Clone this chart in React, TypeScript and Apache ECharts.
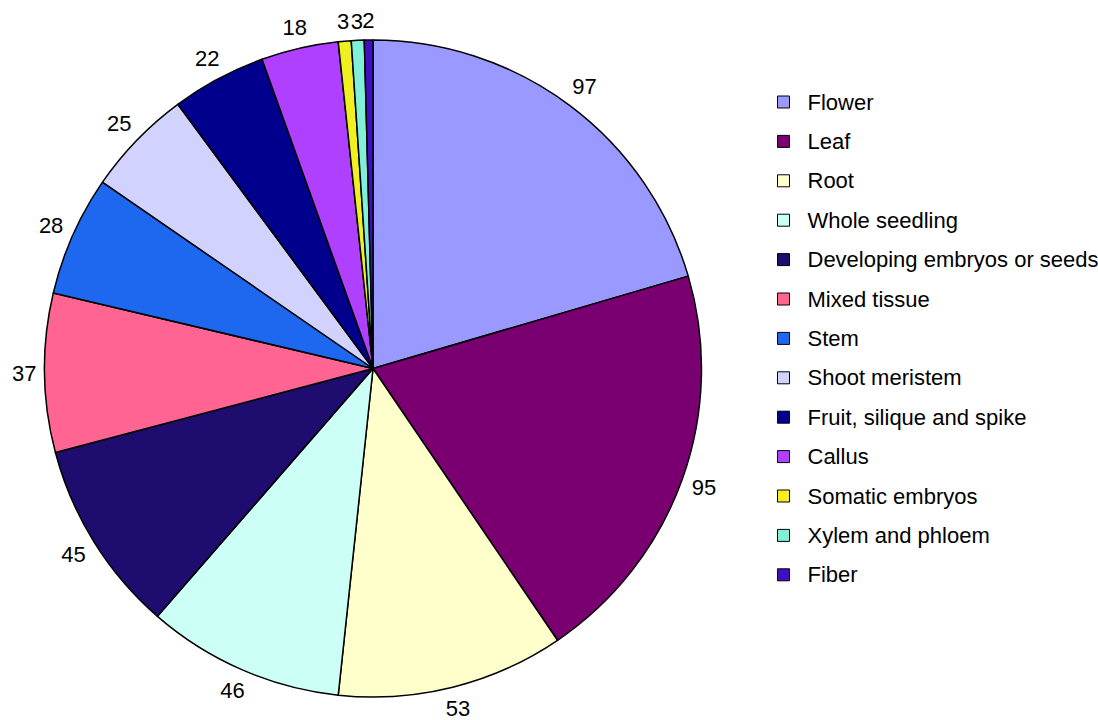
import React, { useEffect, useRef } from "react";
import * as echarts from "echarts";

// Tissue categories and their counts
const categories = [
  "Flower",
  "Leaf",
  "Root",
  "Whole seedling",
  "Developing embryos or seeds",
  "Mixed tissue",
  "Stem",
  "Shoot meristem",
  "Fruit, silique and spike",
  "Callus",
  "Somatic embryos",
  "Xylem and phloem",
  "Fiber",
];
const counts = [97, 95, 53, 46, 45, 37, 28, 25, 22, 18, 3, 3, 2];
const colors = [
  "#9999FF",
  "#7A0072",
  "#FFFFCC",
  "#CCFFF6",
  "#1E0C6E",
  "#FF6492",
  "#1E68F0",
  "#D2D2FF",
  "#00008C",
  "#B040FF",
  "#F0F020",
  "#80F0D8",
  "#4010C0",
];

const CX = 373;
const CY = 368.5;
const R = 328.5;
const LABEL_GAP = 8;

export default function App() {
  const ref = useRef<HTMLDivElement>(null);

  useEffect(() => {
    if (!ref.current) return;
    const chart = echarts.init(ref.current, undefined, { renderer: "svg" });
    const font = "'Liberation Sans', Arial, sans-serif";

    // mid angle of each slice, clockwise from 12 o'clock
    const total = counts.reduce((s, v) => s + v, 0);
    const midAngles: number[] = [];
    let acc = 0;
    counts.forEach((v) => {
      midAngles.push(((acc + v / 2) / total) * Math.PI * 2);
      acc += v;
    });

    chart.setOption({
      animation: false,
      backgroundColor: "#ffffff",
      color: colors,
      legend: {
        orient: "vertical",
        left: 772,
        top: 86,
        icon: "rect",
        itemWidth: 12,
        itemHeight: 12,
        itemGap: 17.4,
        itemStyle: { borderColor: "#000", borderWidth: 1 },
        textStyle: { fontSize: 22, color: "#000", fontFamily: font, padding: [0, 0, 0, 13] },
        data: categories,
      },
      series: [
        {
          type: "pie",
          center: [CX, CY],
          radius: R,
          startAngle: 90,
          clockwise: true,
          avoidLabelOverlap: false,
          itemStyle: { borderColor: "#000", borderWidth: 1.5 },
          label: {
            show: true,
            position: "outside",
            formatter: "{c}",
            fontSize: 22,
            color: "#000",
            fontFamily: font,
          },
          labelLine: { show: false, length: 10, length2: 0 },
          // place each value just beyond the rim, along its slice's mid angle
          labelLayout: (p: any) => {
            const a = midAngles[p.dataIndex];
            const ux = Math.sin(a);
            const uy = -Math.cos(a);
            const w = p.labelRect.width;
            const h = p.labelRect.height;
            const ext = (Math.abs(ux) * w) / 2 + (Math.abs(uy) * h) / 2;
            const d = R + LABEL_GAP + ext;
            return {
              x: CX + ux * d,
              y: CY + uy * d,
              align: "center",
              verticalAlign: "middle",
            };
          },
          emphasis: { disabled: true },
          data: categories.map((name, i) => ({ name, value: counts[i] })),
        },
      ],
    });
    return () => chart.dispose();
  }, []);

  return (
    <div
      ref={ref}
      style={{ position: "absolute", left: 0, top: 0, width: 1098, height: 720 }}
    />
  );
}
